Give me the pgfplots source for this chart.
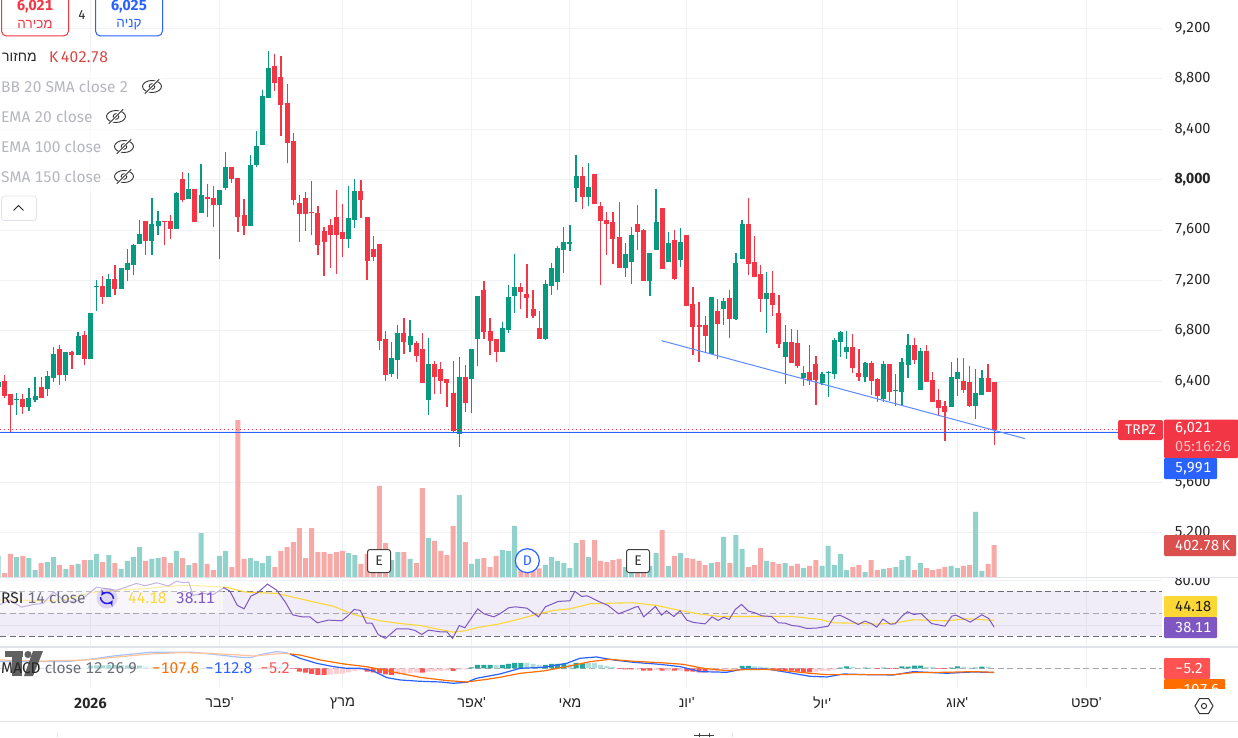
\documentclass[border=0pt]{standalone}
\usepackage{pgfplots}
\usepackage{pgfplotstable}
\usepackage{fontspec}
\pgfplotsset{compat=1.18}
\setmainfont{Fira Sans}[Numbers={Lining,Monospaced}]
\newfontfamily\hebfont[Script=Hebrew]{Liberation Sans}
\TeXXeTstate=1
\newcommand\heb[1]{{\hebfont\beginR #1\endR}}
\newcommand\hebq[1]{{\hebfont\beginR #1\endR'}}
\definecolor{cgreen}{HTML}{089981}
\definecolor{cred}{HTML}{F23645}
\definecolor{vgreen}{HTML}{92D2CC}
\definecolor{vred}{HTML}{F7A9A7}
\definecolor{tvblue}{HTML}{2962FF}
\definecolor{tvorange}{HTML}{FF6D00}
\definecolor{tvpurple}{HTML}{7E57C2}
\definecolor{tvyellow}{HTML}{FDD835}
\definecolor{gridc}{HTML}{F0F1F4}
\definecolor{sepc}{HTML}{E0E3EB}
\definecolor{hsg}{HTML}{26A69A}
\definecolor{hpg}{HTML}{B2DFDB}
\definecolor{hsr}{HTML}{FF5252}
\definecolor{hpr}{HTML}{FFCDD2}
\definecolor{greytxt}{HTML}{B5B7BD}
\definecolor{midtxt}{HTML}{6A6D78}
\pgfplotstableread{
x o h l c
-1 6358 6420 6330 6397
2 6255 6305 6133 6260
4 6204 6345 6165 6268
5 6260 6434 6236 6284
7 6347 6482 6284 6442
8 6434 6672 6395 6617
10 6458 6633 6403 6633
12 6617 6791 6617 6760
14 6585 6942 6585 6942
15 7151 7204 6958 7156
17 7077 7251 7069 7212
19 7140 7299 7140 7299
20 7291 7449 7196 7338
21 7331 7489 7243 7481
22 7497 7679 7489 7568
24 7521 7854 7402 7648
25 7640 7751 7560 7671
28 7616 7902 7616 7894
30 7854 8052 7846 7925
32 7743 8124 7743 7878
35 7806 7917 7370 7917
36 7941 8219 7917 8100
40 7640 8195 7640 8116
41 8124 8385 8100 8266
42 8282 8710 8282 8663
43 8655 9020 8655 8885
56 7537 7950 7458 7696
57 7688 8005 7616 7910
63 6467 6712 6435 6585
64 6578 6847 6419 6784
66 6696 6887 6633 6760
69 6260 6744 6133 6538
74 5991 6593 5880 6435
76 6427 6657 6149 6657
77 6744 7077 6522 7077
81 6641 6871 6633 6823
82 6815 7164 6784 7069
83 7085 7410 6942 7149
88 6744 7204 6728 7172
89 7164 7339 7085 7299
90 7196 7474 7125 7458
91 7450 7624 7260 7505
92 7498 7640 7434 7503
93 7941 8195 7823 8029
95 7870 8132 7791 7941
101 7307 7497 7228 7410
102 7355 7624 7172 7561
105 7204 7418 7077 7418
106 7450 7926 7450 7664
108 7355 7585 7355 7497
110 7371 7616 7307 7505
115 6625 7069 6625 7069
117 6982 7061 6847 7037
119 6903 7418 6887 7339
120 7378 7680 7378 7648
124 7061 7267 6784 7101
127 6601 6847 6379 6712
130 6435 6522 6363 6467
133 6395 6475 6371 6459
134 6469 6482 6276 6475
135 6467 6744 6419 6728
136 6720 6800 6593 6792
137 6641 6800 6578 6673
140 6443 6554 6395 6546
143 6268 6562 6236 6538
145 6327 6459 6205 6332
146 6324 6585 6205 6554
147 6538 6776 6427 6689
149 6340 6665 6340 6641
154 6205 6554 6205 6435
155 6427 6585 6284 6475
158 6213 6498 6102 6308
159 6300 6490 6300 6427
}\upc
\pgfplotstableread{
x o h l c
0 6403 6450 6271 6292
1 6300 6300 5998 6220
3 6260 6300 6141 6204
6 6355 6434 6276 6276
9 6656 6688 6371 6458
11 6633 6643 6498 6617
13 6767 6799 6530 6585
16 7156 7235 7013 7077
18 7212 7323 7085 7140
23 7671 7671 7402 7521
26 7671 7671 7481 7666
27 7671 7719 7529 7616
29 8005 8060 7822 7846
31 7925 7925 7671 7671
33 7859 7965 7703 7849
34 7854 7949 7624 7806
37 8100 8100 7973 8012
38 8012 8012 7584 7711
39 7719 7846 7560 7640
44 8901 8996 8702 8774
45 8813 8980 8346 8599
46 8607 8758 8131 8298
47 8306 8369 7798 7846
48 7814 7878 7505 7735
49 7854 7902 7592 7735
50 7743 7989 7560 7738
51 7735 7790 7402 7489
52 7592 7624 7235 7513
53 7640 7687 7299 7568
54 7703 7917 7251 7568
55 7585 7807 7387 7537
58 7910 7997 7696 7846
59 7704 7704 7204 7363
60 7450 7553 7355 7394
61 7489 7489 6649 6728
62 6736 6800 6403 6459
65 6784 6903 6617 6720
67 6704 6720 6554 6609
68 6657 6784 6395 6395
70 6538 6562 6300 6443
71 6498 6554 6300 6411
72 6419 6419 6197 6395
73 6308 6562 5999 6014
75 6435 6530 6157 6237
78 7125 7196 6736 6800
79 6800 6903 6609 6728
80 6736 6736 6554 6641
84 7149 7180 6974 7117
85 7093 7331 6903 7069
86 6974 7125 6903 6926
87 6823 6958 6736 6744
94 8029 8100 7767 7870
96 8045 8045 7815 7815
97 7791 7823 7164 7680
98 7680 7743 7402 7656
99 7664 7743 7331 7537
100 7545 7823 7307 7307
103 7648 7799 7442 7593
104 7600 7608 7204 7204
107 7775 7775 7299 7299
109 7521 7600 7204 7220
111 7561 7561 7006 7006
112 7014 7148 6609 6839
113 6847 7030 6554 6839
114 6847 6919 6625 6768
116 6958 7053 6578 6863
118 7061 7125 6744 6903
121 7648 7854 7244 7339
122 7347 7553 7228 7236
123 7252 7323 6950 7061
125 7101 7275 6919 7014
126 6942 7085 6665 6704
128 6712 6815 6554 6554
129 6704 6807 6506 6530
131 6475 6689 6371 6411
132 6538 6601 6213 6419
138 6673 6776 6467 6514
139 6467 6657 6403 6443
141 6546 6562 6292 6411
142 6419 6427 6236 6292
144 6538 6538 6244 6324
148 6689 6744 6538 6578
150 6641 6689 6403 6403
151 6411 6475 6244 6244
152 6252 6340 6126 6197
153 6205 6244 5927 6165
156 6403 6585 6308 6340
157 6395 6522 6197 6213
160 6427 6538 6324 6324
161 6395 6395 5896 6021
}\downc
\pgfplotstableread{
x v
-1 265
2 252
4 239
5 88
7 189
8 252
10 101
12 164
14 214
15 290
17 277
19 101
20 202
21 252
22 378
24 227
25 239
28 328
30 151
32 554
35 265
36 328
40 239
41 202
42 176
43 265
56 302
57 277
63 214
64 315
66 227
69 491
74 1033
76 164
77 227
81 340
82 328
83 643
88 151
89 252
90 202
91 176
92 113
93 428
95 252
101 126
102 88
105 139
106 302
108 139
110 302
115 176
117 504
119 529
120 353
124 202
127 176
130 113
133 139
134 391
135 151
136 290
137 88
140 63
143 101
145 126
146 214
147 265
149 176
154 139
155 113
158 819
159 76
}\upv
\pgfplotstableread{
x v
0 50
1 290
3 265
6 176
9 151
11 151
13 214
16 189
18 176
23 202
26 252
27 176
29 239
31 176
33 164
34 88
37 126
38 1978
39 227
44 126
45 328
46 378
47 441
48 617
49 239
50 617
51 315
52 315
53 290
54 315
55 328
58 164
59 290
60 172
61 1147
62 428
65 315
67 176
68 1121
70 454
71 328
72 277
73 643
75 441
78 239
79 126
80 265
84 88
85 88
86 88
87 109
94 466
96 466
97 202
98 189
99 214
100 227
103 88
104 88
107 592
109 265
111 239
112 227
113 202
114 151
116 189
118 176
121 126
122 151
123 365
125 189
126 164
128 139
129 164
131 139
132 214
138 126
139 151
141 214
142 88
144 113
148 88
150 113
151 88
152 101
153 126
156 139
157 151
160 164
161 402.78
}\downv
\pgfplotsset{
  tvbase/.style={scale only axis, width=1162pt, xmin=-0.704, xmax=188.3,
    axis line style={draw=none}, major tick length=0pt,
    xtick={14,35,55,76,92,111,133,155,176}, xticklabels={},
    grid=major, major grid style={color=gridc, line width=1pt},
    ytick pos=right},
  hbar/.style={ybar, bar shift=0pt, bar width=5pt, draw=none, fill=#1, forget plot},
}
\begin{document}
\begin{tikzpicture}
\useasboundingbox (0pt,0pt) rectangle (1238pt,737pt);
\fill[white] (0pt,0pt) rectangle (1238pt,737pt);
% price grid and scale
\begin{axis}[tvbase, at={(0pt,159.4pt)}, anchor=south west, height=577.6pt,
  ymin=4844, ymax=9424.4,
  ytick={5200,5600,6000,6400,6800,7200,7600,8000,8400,8800,9200},
  yticklabels={{5,200},{5,600},{},{6,400},{6,800},{7,200},{7,600},{\textbf{8,000}},{8,400},{8,800},{9,200}},
  y tick label style={anchor=west, xshift=9pt, font=\fontsize{14.5}{15}\selectfont, text=black!85},
  yticklabel pos=right]
\addplot[draw=none, forget plot] coordinates {(0,6000)};
\end{axis}
% volume
\begin{axis}[at={(0pt,160pt)}, anchor=south west, scale only axis, width=1162pt, height=177pt,
  xmin=-0.704, xmax=188.3, ymin=0, ymax=2230, hide axis]
\addplot[hbar=vgreen] table[x=x,y=v] {\upv};
\addplot[hbar=vred] table[x=x,y=v] {\downv};
\end{axis}
% candles
\begin{axis}[at={(0pt,159.4pt)}, anchor=south west, scale only axis, width=1162pt, height=577.6pt,
  xmin=-0.704, xmax=188.3, ymin=4844, ymax=9424.4, hide axis]
\addplot[draw=none, forget plot, error bars/.cd, y dir=both, y explicit, error mark=none,
  error bar style={line width=1.25pt, color=cgreen}]
  table[x=x, y=c, y error plus expr=\thisrow{h}-\thisrow{c}, y error minus expr=\thisrow{c}-\thisrow{l}] {\upc};
\addplot[draw=none, forget plot, error bars/.cd, y dir=both, y explicit, error mark=none,
  error bar style={line width=1.25pt, color=cred}]
  table[x=x, y=c, y error plus expr=\thisrow{h}-\thisrow{c}, y error minus expr=\thisrow{c}-\thisrow{l}] {\downc};
\addplot[draw=none, forget plot, error bars/.cd, y dir=minus, y explicit, error mark=none,
  error bar style={line width=5pt, color=cgreen}]
  table[x=x, y=c, y error minus expr=\thisrow{c}-\thisrow{o}+6] {\upc};
\addplot[draw=none, forget plot, error bars/.cd, y dir=minus, y explicit, error mark=none,
  error bar style={line width=5pt, color=cred}]
  table[x=x, y=o, y error minus expr=\thisrow{o}-\thisrow{c}+6] {\downc};
\addplot[cred, dash pattern=on 1.3pt off 2.7pt, line width=1pt, forget plot] coordinates {(-0.704,6021) (181.1,6021)};
\addplot[tvblue, line width=1pt, forget plot] coordinates {(-0.704,5991) (181.1,5991)};
\addplot[color=tvblue!75!white, line width=1pt, forget plot] coordinates {(106.9,6723) (166.0,5946)};
\end{axis}
% RSI
\begin{axis}[tvbase, at={(0pt,91pt)}, anchor=south west, height=68pt,
  ymin=21.4, ymax=81.8, ytick={40,80},
  yticklabels={{},{80.00}},
  y tick label style={anchor=west, xshift=9pt, font=\fontsize{14.5}{15}\selectfont, text=black!85},
  yticklabel pos=right]
\fill[tvpurple, opacity=0.11] (axis cs:-0.704,30) rectangle (axis cs:188.3,70);
\addplot[color=midtxt, dash pattern=on 6pt off 3.5pt, line width=0.9pt, forget plot] coordinates {(-0.704,70) (188.3,70)};
\addplot[color=midtxt!60!white, dash pattern=on 6pt off 3.5pt, line width=0.9pt, forget plot] coordinates {(-0.704,50) (188.3,50)};
\addplot[color=midtxt, dash pattern=on 6pt off 3.5pt, line width=0.9pt, forget plot] coordinates {(-0.704,30) (188.3,30)};
\addplot[tvyellow, line width=1.1pt, forget plot] coordinates {(-0.7,62.1)(2.5,62.1)(6.3,61.3)(10.1,62.7)(13.9,68.7)(18.3,71.0)(22.6,72.2)(27.0,74.6)(30.2,75.2)(32.9,74.6)(36.2,73.4)(39.2,69.3)(44.3,68.1)(51.4,59.2)(53.5,56.8)(56.8,49.4)(61.1,43.8)(64.4,41.4)(67.6,39.6)(73.0,33.7)(74.9,34.9)(76.8,37.6)(80.6,41.1)(83.9,45.6)(86.9,50.0)(89.3,53.0)(92.0,54.4)(95.3,58.9)(99.1,59.5)(102.3,59.8)(106.1,57.4)(109.9,53.0)(113.2,49.7)(116.4,47.6)(121.8,47.6)(128.3,47.6)(132.7,45.0)(134.9,42.0)(138.1,41.7)(141.9,40.8)(144.6,41.7)(147.9,44.7)(153.3,43.8)(156.5,45.6)(161,44.18)};
\addplot[tvpurple, line width=1pt, forget plot] coordinates {(-0.7,58.3)(0.9,62.1)(2.8,55.9)(4.7,58.3)(6.3,59.2)(8.0,69.3)(9.9,61.3)(11.8,61.3)(13.1,65.1)(15.0,73.7)(16.6,72.2)(18.3,71.0)(19.9,74.0)(21.5,77.0)(22.9,74.9)(24.8,77.6)(26.7,74.6)(28.0,79.0)(29.1,77.6)(30.0,78.1)(30.7,66.3)(32.4,68.1)(34.0,67.2)(35.7,73.1)(36.7,70.1)(37.9,57.4)(39.0,54.4)(40.1,65.7)(41.2,68.7)(42.8,76.4)(44.3,71.0)(45.7,60.4)(46.9,49.1)(48.4,47.3)(49.7,47.3)(50.9,42.0)(52.7,44.4)(54.9,43.8)(56.0,48.8)(56.9,53.9)(57.9,53.0)(58.9,41.7)(59.8,41.7)(60.8,31.6)(62.0,28.1)(63.8,36.7)(65.7,36.7)(66.8,35.2)(67.9,31.6)(69.0,35.5)(70.9,34.0)(72.0,34.0)(72.9,28.1)(74.0,39.6)(74.9,37.6)(77.0,54.4)(78.0,50.0)(79.6,47.3)(80.6,50.0)(82.0,55.3)(83.1,56.2)(85.0,55.0)(86.9,47.3)(88.0,56.2)(90.1,61.0)(92.0,61.6)(92.8,69.9)(93.9,65.4)(94.8,66.0)(96.9,60.4)(98.2,57.4)(99.9,50.0)(101.5,53.3)(102.6,55.9)(103.1,56.5)(104.0,47.3)(105.9,56.5)(106.9,48.8)(107.7,52.7)(108.9,47.6)(109.9,52.7)(111.0,44.4)(112.1,42.3)(114.0,41.1)(115.1,47.3)(116.1,44.1)(117.0,47.0)(117.9,45.0)(118.9,53.9)(119.9,58.3)(121.0,52.4)(122.1,50.9)(123.2,48.2)(124.8,47.6)(125.9,42.0)(127.0,41.7)(128.1,39.6)(129.2,39.0)(130.5,37.0)(132.1,37.3)(134.0,39.0)(135.0,47.6)(135.9,48.8)(137.0,45.9)(138.9,40.5)(140.0,43.5)(141.1,41.1)(141.9,38.1)(142.9,45.3)(144.1,40.8)(144.9,41.1)(146.0,47.9)(146.9,51.8)(147.9,49.4)(149.1,50.3)(150.8,41.4)(153.0,39.0)(154.1,47.9)(154.8,48.8)(157.1,42.6)(159.0,49.1)(160.1,45.9)(161,38.11)};
\end{axis}
% MACD
\begin{axis}[tvbase, at={(0pt,49pt)}, anchor=south west, height=40pt,
  ymin=-528, ymax=544, ytick={0}, yticklabels={{}},
  ymajorgrids=false,
  xticklabels={{\textbf{2026}},{\hebq{פבר}},{\heb{מרץ}},{\hebq{אפר}},{\heb{מאי}},{\hebq{יונ}},{\hebq{יול}},{\hebq{אוג}},{\hebq{ספט}}},
  x tick label style={anchor=center, yshift=-15pt, font=\fontsize{14.5}{15}\selectfont, text=black!85}]
\addplot[color=midtxt!60!white, dash pattern=on 6pt off 3.5pt, line width=0.8pt, forget plot] coordinates {(-0.704,0) (188.3,0)};
\addplot[hbar=hsg] coordinates {(14,71)(15,80)(16,80)(17,89)(18,89)(19,80)(20,80)(21,71)(22,71)(76,27)(77,89)(78,89)(79,89)(81,89)(82,116)(83,143)(84,143)(88,89)(89,116)(90,116)(91,125)(93,143)(94,134)(120,62)(121,62)(136,18)(137,54)(140,18)(143,18)(146,54)(147,45)(148,71)(149,71)(154,18)(155,54)(158,18)(159,45)};
\addplot[hbar=hpg] coordinates {(2,18)(3,18)(4,18)(5,18)(6,18)(7,18)(8,18)(9,18)(10,18)(11,18)(12,18)(13,18)(23,54)(24,45)(25,36)(26,36)(27,36)(28,27)(29,27)(30,18)(31,18)(43,45)(44,54)(45,45)(46,27)(80,89)(85,143)(86,116)(87,89)(92,107)(95,143)(96,143)(97,89)(98,62)(99,36)(122,54)(123,45)(124,27)(138,36)(141,18)(150,36)(151,36)(156,36)(157,18)(160,45)};
\addplot[hbar=hsr] coordinates {(47,-18)(48,-89)(49,-116)(50,-152)(51,-179)(52,-179)(59,-89)(60,-107)(61,-134)(62,-161)(63,-179)(68,-116)(73,-71)(100,-18)(101,-27)(102,-27)(104,-62)(105,-62)(107,-62)(109,-62)(111,-80)(112,-89)(113,-107)(114,-107)(125,-36)(126,-45)(127,-54)(128,-62)(129,-89)(130,-107)(131,-107)(142,-18)(144,-18)(145,-18)(152,-18)(153,-18)(161,-5.2)};
\addplot[hbar=hpr] coordinates {(32,-9)(33,-9)(34,-9)(35,-9)(36,-9)(37,-18)(38,-18)(39,-18)(40,-18)(41,-18)(42,-18)(53,-170)(54,-152)(55,-143)(56,-107)(57,-71)(58,-54)(64,-161)(65,-152)(66,-125)(67,-116)(69,-89)(70,-80)(71,-71)(72,-54)(74,-36)(75,-27)(103,-36)(106,-45)(108,-62)(110,-62)(115,-80)(116,-89)(117,-36)(118,-27)(119,-27)(132,-89)(133,-71)(134,-71)(135,-36)(139,-9)};
\addplot[tvblue, line width=1.2pt, forget plot] coordinates {(-0.7,179)(6.3,179)(10.1,179)(13.9,241)(17.7,330)(21,384)(23.7,429)(27.5,429)(30.7,429)(34,375)(38.3,295)(40,286)(42.1,384)(44.3,447)(45.9,420)(48.1,268)(50.8,134)(53.5,45)(55.7,0)(57.9,0)(60,-71)(62.2,-250)(64.4,-313)(67.6,-348)(70.9,-366)(73,-402)(75.2,-375)(76.8,-268)(80.6,-152)(83.9,0)(87.7,27)(91.5,134)(93.6,268)(96.3,304)(99.1,223)(102.3,161)(106.6,107)(109.9,45)(113.2,-89)(117.5,-107)(120.2,-18)(124,-18)(127.3,-107)(131,-214)(133.8,-232)(136.5,-152)(140.3,-170)(144.6,-179)(147.9,-89)(153.3,-134)(157.6,-98)(161,-112.8)};
\addplot[tvorange, line width=1.2pt, forget plot] coordinates {(-0.7,223)(6.3,196)(13.4,223)(17.7,295)(23.7,384)(28.6,420)(32.9,402)(37.3,366)(40.5,330)(45.4,402)(48.1,357)(51.4,223)(55.2,116)(58.9,45)(62.7,-80)(67.6,-241)(72,-330)(75.2,-366)(78.5,-295)(80.6,-241)(83.9,-134)(87.7,-71)(91.5,45)(95.3,179)(98.5,241)(102.3,188)(106.6,152)(110.4,107)(113.7,0)(117.5,-62)(120.2,-36)(124,-27)(127.3,-71)(131,-134)(133.8,-170)(136.5,-170)(140.3,-170)(144.6,-170)(147.9,-116)(153.3,-107)(157.6,-89)(161,-107.6)};
\end{axis}
% annotations in picture pixels, y downward
\begin{scope}[x=1pt,y=-1pt,yshift=737pt,
  lbl/.style={anchor=center, inner sep=0pt, font=\fontsize{13.5}{14}\selectfont},
  sc/.style={anchor=west, inner sep=0pt, font=\fontsize{14.5}{15}\selectfont},
  leg/.style={anchor=west, inner sep=0pt, font=\fontsize{15.5}{16}\selectfont}]
\fill[white] (1163,569) rectangle (1238,577);
\draw[sepc, line width=1.2pt] (0,577.8) -- (1238,577.8);
\draw[sepc, line width=2pt] (0,646.7) -- (1238,646.7);
\draw[sepc, line width=1.2pt] (0,721.5) -- (1238,721.5);
\draw[sepc, line width=0.8pt] (57,733) -- (57,737);
\draw[sepc, line width=0.8pt] (732.5,733) -- (732.5,737);
\draw[black!75, line width=1pt] (694,735) -- (714,735) (699,733) -- (699,737) (709,733) -- (709,737);
% legend veils
\fill[white, opacity=0.6] (0,71) rectangle (165,101);
\fill[white, opacity=0.6] (0,101) rectangle (135,191);
\fill[white, opacity=0.55] (0,578.6) rectangle (223,613);
\fill[white, opacity=0.6] (0,648) rectangle (290,677);
% logo
\fill[black!62] (5,651) rectangle (23,657);
\fill[black!62] (12,657) rectangle (22,676);
\fill[black!62] (28,654.5) circle (3.6);
\fill[black!62] (43,651) -- (33,651) -- (24,676) -- (33,676) -- cycle;
% buy and sell boxes
\draw[cred, line width=1pt, rounded corners=5pt] (1.5,-6) rectangle (68.5,36);
\draw[tvblue, line width=1pt, rounded corners=5pt] (95.5,-6) rectangle (162.5,36);
\node[lbl, text=cred, font=\bfseries\fontsize{14.5}{15}\selectfont] at (35,7) {6,021};
\node[lbl, text=cred] at (35,24.5) {\heb{מכירה}};
\node[lbl, text=black!85, font=\fontsize{13}{14}\selectfont] at (82,14.5) {4};
\node[lbl, text=tvblue, font=\bfseries\fontsize{14.5}{15}\selectfont] at (129,7) {6,025};
\node[lbl, text=tvblue] at (129,24.5) {\heb{קניה}};
\node[leg, text=black!85, font=\fontsize{14}{15}\selectfont] at (2,57) {\heb{מחזור}};
\node[leg, text=hsr!85!black] at (49,57) {K\,402.78};
\node[leg, text=greytxt] at (1,86.5) {BB 20 SMA close 2};
\node[leg, text=greytxt] at (1,116.5) {EMA 20 close};
\node[leg, text=greytxt] at (1,146.5) {EMA 100 close};
\node[leg, text=greytxt] at (1,176.5) {SMA 150 close};
\foreach \ex/\ey in {152/86.5,116/116.5,124/146.5,124/176.5}{
  \draw[black!80, line width=0.9pt] (\ex,\ey) ellipse (9.5 and 6);
  \draw[black!80, line width=0.9pt] (\ex,\ey) circle (2.8);
  \draw[white, line width=2.4pt] (\ex-6.5,\ey+8) -- (\ex+6.5,\ey-8);
  \draw[black!80, line width=0.9pt] (\ex-7.2,\ey+7.2) -- (\ex+7.2,\ey-7.2);
}
\draw[sepc, line width=0.8pt, rounded corners=3pt, fill=white] (1.5,196) rectangle (36.5,220.5);
\draw[black!85, line width=1pt] (13.5,210.5) -- (18.5,205.5) -- (23.5,210.5);
% event markers
\foreach \ex in {379,638}{
  \draw[black!75, line width=1pt, rounded corners=2.5pt, fill=white] (\ex-11.5,549.5) rectangle (\ex+11.5,572.5);
  \node[lbl, text=black!80, font=\fontsize{14}{15}\selectfont] at (\ex,561) {E};
}
\draw[tvblue, line width=1.2pt, fill=white] (527.3,560.7) circle (12);
\node[lbl, text=tvblue, font=\fontsize{14}{15}\selectfont] at (527.3,560.7) {D};
% scale labels
\fill[cred, rounded corners=2pt] (1118,420) rectangle (1163,440);
\node[lbl, text=white, font=\fontsize{14}{15}\selectfont] at (1140.5,430) {TRPZ};
\fill[cred, rounded corners=1pt] (1164,419.5) rectangle (1238,458);
\node[sc, text=white] at (1175,429) {6,021};
\node[sc, text=white!70!cred] at (1175,447) {05:16:26};
\fill[tvblue, rounded corners=1pt] (1164,458) rectangle (1217,479);
\node[sc, text=white] at (1175,468.5) {5,991};
\fill[hsr!85!black!95, rounded corners=1pt] (1164,535) rectangle (1236,556);
\node[sc, text=white] at (1175,545.5) {402.78\,K};
\fill[tvyellow, rounded corners=1pt] (1164,596) rectangle (1217,617);
\node[sc, text=black!90] at (1175,606.5) {44.18};
\fill[tvpurple, rounded corners=1pt] (1164,617) rectangle (1217,638);
\node[sc, text=white] at (1175,627.5) {38.11};
\fill[hsr, rounded corners=1pt] (1164,658) rectangle (1210,679);
\node[sc, text=white] at (1175,668.5) {−5.2};
\begin{scope}
\clip (1164,679) rectangle (1225,688);
\fill[tvorange, rounded corners=1pt] (1164,679) rectangle (1225,700);
\node[sc, text=white] at (1175,689.5) {−107.6};
\end{scope}
% indicator legends
\node[leg] at (1,598) {{\color{black!85}RSI} {\color{midtxt}14 close}};
\fill[tvpurple, opacity=0.2] (107,598) circle (10.5);
\draw[blue!70!tvpurple, line width=1.5pt, -stealth] (100.5,597) arc (180:30:6.5);
\draw[blue!70!tvpurple, line width=1.5pt, -stealth] (113.5,599) arc (0:-150:6.5);
\node[leg, text=tvyellow] at (128,598) {44.18};
\node[leg, text=tvpurple] at (176,598) {38.11};
\node[leg] at (1,668) {{\color{black!85}MACD} {\color{midtxt}close 12 26 9}};
\node[leg, text=tvorange] at (152,668) {−107.6};
\node[leg, text=tvblue] at (205,668) {−112.8};
\node[leg, text=hsr] at (260,668) {−5.2};
% settings icon
\draw[black!80, line width=1pt] (1195,706) -- (1199.5,698.5) -- (1208.5,698.5) -- (1213,706) -- (1208.5,713.5) -- (1199.5,713.5) -- cycle;
\draw[black!80, line width=1pt] (1204,706) circle (2.6);
\end{scope}
\end{tikzpicture}
\end{document}
